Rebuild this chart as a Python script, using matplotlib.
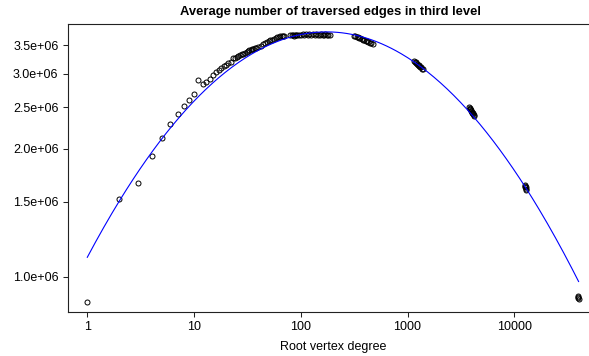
import matplotlib
matplotlib.use("Agg")
import matplotlib.pyplot as plt
from matplotlib.ticker import NullLocator, FixedLocator, FixedFormatter
import numpy as np

# average traversed edges at the third BFS level (millions), by root vertex degree
degree_low = [1, 2, 3, 4, 5, 6, 7, 8, 9, 10, 11, 12, 13, 14, 15, 16, 17, 18, 19, 20, 21, 22, 23]
edges_low = [0.873, 1.52, 1.663, 1.92, 2.12, 2.28, 2.41, 2.52, 2.60, 2.69, 2.89, 2.83,
             2.87, 2.92, 2.97, 3.02, 3.06, 3.09, 3.13, 3.15, 3.18, 3.20, 3.26]

degree_mid = [24, 25, 26, 27, 28, 29, 30, 31, 32, 33, 34, 35, 36, 37, 38, 40, 42, 44, 46, 48,
              50, 52, 54, 56, 58, 60, 62, 64, 66, 68, 70, 80, 82, 84, 86, 88, 90, 93, 96, 100,
              104, 108, 112, 116, 120, 125, 130, 135, 140, 145, 150, 155, 160, 165, 170, 175,
              180, 187]
edges_mid = [3.27, 3.28, 3.30, 3.31, 3.33, 3.34, 3.36, 3.37, 3.38, 3.40, 3.41, 3.42, 3.43,
             3.44, 3.45, 3.47, 3.49, 3.52, 3.53, 3.55, 3.57, 3.59, 3.60, 3.62, 3.63, 3.65,
             3.66, 3.68, 3.67, 3.68, 3.67, 3.69, 3.70, 3.69, 3.68, 3.69, 3.70, 3.69, 3.70,
             3.70, 3.71, 3.70, 3.71, 3.70, 3.71, 3.70, 3.71, 3.70, 3.71, 3.70, 3.70, 3.71,
             3.70, 3.70, 3.71, 3.70, 3.70, 3.70]

degree_hi = [317, 325, 334, 343, 352, 362, 372, 383, 394, 405, 417, 430, 443, 457, 470,
             1150, 1170, 1190, 1210, 1230, 1250, 1270, 1290, 1310, 1330, 1360, 1385,
             3790, 3820, 3850, 3880, 3920, 3960, 4000, 4040, 4080, 4130, 4180, 4220,
             12550, 12620, 12700, 12760, 12830, 12900,
             39500, 39700, 39800, 40000]
edges_hi = [3.68, 3.67, 3.66, 3.65, 3.64, 3.63, 3.61, 3.60, 3.59, 3.58, 3.57, 3.55, 3.54,
            3.53, 3.52,
            3.21, 3.20, 3.19, 3.18, 3.16, 3.15, 3.14, 3.13, 3.11, 3.10, 3.08, 3.07,
            2.50, 2.49, 2.48, 2.47, 2.46, 2.45, 2.44, 2.43, 2.42, 2.41, 2.40, 2.39,
            1.64, 1.63, 1.62, 1.62, 1.61, 1.60,
            0.903, 0.895, 0.889, 0.885]

# quadratic trend in log10 space: log10(edges) = c2*L^2 + c1*L + c0, L = log10(degree)
fit_coef = [-0.10527, 0.4721, 6.0456]

x_ticks = [1, 10, 100, 1000, 10000]
y_ticks = [1.0e6, 1.5e6, 2.0e6, 2.5e6, 3.0e6, 3.5e6]

degree = np.array(degree_low + degree_mid + degree_hi, dtype=float)
edges = np.array(edges_low + edges_mid + edges_hi) * 1e6

plt.rcParams["font.family"] = ["Liberation Sans", "DejaVu Sans"]

fig = plt.figure(figsize=(5.89, 3.56), dpi=100)
ax = fig.add_axes([0.1149, 0.1228, 0.9000, 0.8104])
ax.set_xscale("log")
ax.set_yscale("log")

ax.plot(degree, edges, "o", mfc="none", mec="black", ms=3.6, mew=0.7)

xs = np.geomspace(degree.min(), degree.max(), 300)
ax.plot(xs, 10 ** np.polyval(fit_coef, np.log10(xs)), color="#0000FF", lw=0.8)

ax.set_xlim(0.655, 60500)
ax.set_ylim(0.825e6, 3.926e6)

ax.xaxis.set_major_locator(FixedLocator(x_ticks))
ax.xaxis.set_major_formatter(FixedFormatter([str(t) for t in x_ticks]))
ax.yaxis.set_major_locator(FixedLocator(y_ticks))
ax.yaxis.set_major_formatter(FixedFormatter(["%.1e" % t for t in y_ticks]))
ax.xaxis.set_minor_locator(NullLocator())
ax.yaxis.set_minor_locator(NullLocator())
ax.tick_params(length=3.6, width=0.75, pad=3, labelsize=9, color="#222222")

for side in ["left", "top", "bottom", "right"]:
    ax.spines[side].set_linewidth(0.8)
    ax.spines[side].set_color("#222222")

fig.text(330 / 589, 1 - 12 / 356, "Average number of traversed edges in third level",
         ha="center", va="center", fontsize=9.4, fontweight="bold")
fig.text(332.7 / 589, 1 - 347 / 356, "Root vertex degree", ha="center", va="center", fontsize=9)

fig.savefig("out.png", dpi=100)
